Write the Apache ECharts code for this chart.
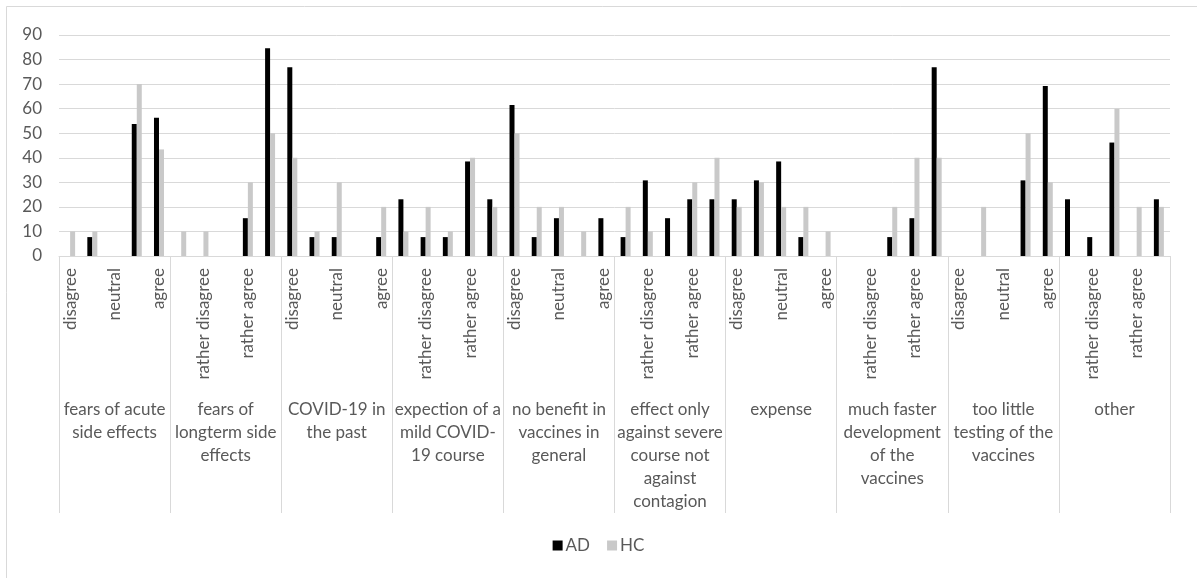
<!DOCTYPE html>
<html>
<head>
<meta charset="utf-8">
<script src="https://cdn.jsdelivr.net/npm/echarts@6/dist/echarts.min.js"></script>
<style>
html,body{margin:0;padding:0;background:#fff;}
#c{width:1197px;height:578px;}
</style>
</head>
<body>
<div id="c"></div>
<script>
var groups = [
  "fears of acute\nside effects",
  "fears of\nlongterm side\neffects",
  "COVID-19 in\nthe past",
  "expection of a\nmild COVID-\n19 course",
  "no benefit in\nvaccines in\ngeneral",
  "effect only\nagainst severe\ncourse not\nagainst\ncontagion",
  "expense",
  "much faster\ndevelopment\nof the\nvaccines",
  "too little\ntesting of the\nvaccines",
  "other"
];
var levels = ["disagree", "rather disagree", "neutral", "rather agree", "agree"];
var AD = [
  0, 7.7, 0, 53.8, 56.3,
  0, 0, 0, 15.4, 84.6,
  76.9, 7.7, 7.7, 0, 7.7,
  23.1, 7.7, 7.7, 38.5, 23.1,
  61.5, 7.7, 15.4, 0, 15.4,
  7.7, 30.8, 15.4, 23.1, 23.1,
  23.1, 30.8, 38.5, 7.7, 0,
  0, 0, 7.7, 15.4, 76.9,
  0, 0, 0, 30.8, 69.2,
  23.1, 7.7, 46.2, 0, 23.1
];
var HC = [
  10, 10, 0, 70, 43.4,
  10, 10, 0, 30, 50,
  40, 10, 30, 0, 20,
  10, 20, 10, 40, 20,
  50, 20, 20, 10, 0,
  20, 10, 0, 30, 40,
  20, 30, 20, 20, 10,
  0, 0, 20, 40, 40,
  0, 20, 0, 50, 30,
  0, 0, 60, 20, 20
];
var yTicks = [0, 10, 20, 30, 40, 50, 60, 70, 80, 90];

var subCats = [];
groups.forEach(function () { levels.forEach(function (l) { subCats.push(l); }); });

var FONT = "Lato";
var TXT = "#595959";
var GRID = "#d9d9d9";

var chart = echarts.init(document.getElementById('c'));
chart.setOption({
  backgroundColor: '#fff',
  animation: false,
  textStyle: { fontFamily: FONT },
  graphic: [{
    type: 'rect',
    shape: { x: 6.5, y: 6.5, width: 1250, height: 650 },
    style: { fill: 'none', stroke: GRID, lineWidth: 1 },
    silent: true
  }],
  grid: { left: 59, right: 27, top: 35, bottom: 322 },
  legend: {
    data: ['AD', 'HC'],
    bottom: 19,
    left: 'center',
    icon: 'rect',
    itemWidth: 10,
    itemHeight: 10,
    itemGap: 17,
    textStyle: { fontFamily: FONT, fontSize: 17, color: TXT, padding: [0, 0, 0, -2] }
  },
  xAxis: [{
    type: 'category',
    data: subCats,
    position: 'bottom',
    axisLine: { show: true, lineStyle: { color: GRID, width: 1 } },
    axisTick: { show: false },
    axisLabel: {
      interval: 1,
      rotate: 90,
      margin: 12,
      fontFamily: FONT,
      fontSize: 17,
      color: TXT
    },
    splitLine: { show: false }
  }, {
    type: 'category',
    data: groups,
    position: 'bottom',
    axisLine: { show: false },
    axisTick: { show: true, length: 257, interval: 0, lineStyle: { color: GRID, width: 1 } },
    axisLabel: {
      interval: 0,
      margin: 142,
      fontFamily: FONT,
      fontSize: 17,
      lineHeight: 23,
      color: TXT,
      align: 'center',
      verticalAlign: 'top'
    },
    splitLine: { show: false }
  }],
  yAxis: {
    type: 'value',
    min: yTicks[0],
    max: yTicks[yTicks.length - 1],
    interval: 10,
    axisLine: { show: false },
    axisTick: { show: false },
    axisLabel: { fontFamily: FONT, fontSize: 17, color: TXT, margin: 17 },
    splitLine: { lineStyle: { color: GRID, width: 1 } }
  },
  series: [{
    name: 'AD',
    type: 'bar',
    xAxisIndex: 0,
    data: AD,
    barWidth: 5,
    barGap: '0%',
    itemStyle: { color: '#000000' }
  }, {
    name: 'HC',
    type: 'bar',
    xAxisIndex: 0,
    data: HC,
    barWidth: 5,
    barGap: '0%',
    itemStyle: { color: '#c9c9c9' }
  }]
});
</script>
</body>
</html>
